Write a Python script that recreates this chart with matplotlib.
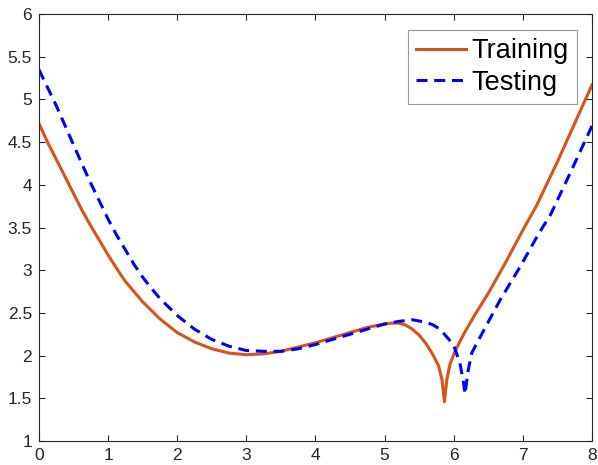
import numpy as np
import matplotlib
matplotlib.use("Agg")
import matplotlib.pyplot as plt

plt.rcParams['font.family'] = ['Liberation Sans', 'DejaVu Sans']

# values
train_x = [0.0, 0.125, 0.25, 0.375, 0.5, 0.625, 0.75, 0.875, 1.0, 1.125, 1.25,
           1.375, 1.5, 1.625, 1.75, 1.875, 2.0, 2.25, 2.5, 2.75,
           3.0, 3.25, 3.5, 3.75, 4.0, 4.25, 4.5, 4.75, 5.0, 5.1, 5.2, 5.3,
           5.4, 5.5, 5.6, 5.7, 5.78, 5.83, 5.865, 5.9, 5.95, 6.03, 6.15, 6.3,
           6.5, 6.75, 7.0, 7.2, 7.5, 7.75, 8.0]
train_y = [4.72, 4.50, 4.30, 4.10, 3.90, 3.70, 3.52, 3.35, 3.18, 3.02, 2.87,
           2.75, 2.63, 2.53, 2.43, 2.35, 2.27, 2.16, 2.08, 2.03,
           2.01, 2.02, 2.05, 2.10, 2.15, 2.21, 2.27, 2.33, 2.37, 2.38, 2.38, 2.36,
           2.31, 2.24, 2.14, 2.01, 1.88, 1.72, 1.46, 1.72, 1.91, 2.07, 2.26, 2.47,
           2.73, 3.09, 3.47, 3.76, 4.27, 4.72, 5.17]

test_x = [0.0, 0.125, 0.25, 0.375, 0.5, 0.625, 0.75, 0.875, 1.0, 1.125, 1.25,
          1.375, 1.5, 1.625, 1.75, 1.875, 2.0, 2.25, 2.5, 2.75,
          3.0, 3.25, 3.5, 3.75, 4.0, 4.25, 4.5, 4.75, 5.0, 5.2, 5.4, 5.6,
          5.7, 5.8, 5.92, 6.0, 6.09, 6.14, 6.165, 6.19, 6.21, 6.26, 6.41, 6.67,
          6.96, 7.23, 7.4, 7.68, 8.0]
test_y = [5.35, 5.14, 4.93, 4.70, 4.47, 4.24, 4.02, 3.81, 3.60, 3.41, 3.24,
          3.07, 2.92, 2.79, 2.67, 2.57, 2.47, 2.31, 2.19, 2.11,
          2.06, 2.05, 2.05, 2.08, 2.13, 2.19, 2.25, 2.31, 2.37, 2.40, 2.42, 2.39,
          2.36, 2.31, 2.20, 2.12, 1.91, 1.69, 1.55, 1.72, 1.83, 2.03, 2.26, 2.65,
          3.04, 3.43, 3.65, 4.13, 4.69]

xticks = np.arange(0, 9, 1)
yticks = [1, 1.5, 2, 2.5, 3, 3.5, 4, 4.5, 5, 5.5, 6]
ytick_labels = ['1', '1.5', '2', '2.5', '3', '3.5', '4', '4.5', '5', '5.5', '6']

fig = plt.figure(figsize=(5.98, 4.65), dpi=100)
ax = fig.add_axes([0.065, 0.0516, 0.925, 0.9183])

ax.plot(train_x, train_y, color='#D95319', lw=2.2, label='Training')
ax.plot(test_x, test_y, color='#0000FF', lw=2.2, linestyle=(0, (3.6, 2.2)),
        label='Testing')

ax.set_xlim(0, 8)
ax.set_ylim(1, 6)
ax.set_xticks(xticks)
ax.set_yticks(yticks)
ax.set_yticklabels(ytick_labels)
ax.tick_params(direction='in', length=4, width=0.8, top=True, right=True,
               labelsize=12.5, colors='#262626', pad=5)
for s in ax.spines.values():
    s.set_color('#262626')
    s.set_linewidth(0.8)

leg = ax.legend(loc='upper right', bbox_to_anchor=(0.973, 0.9625),
                borderaxespad=0, fontsize=19.5, fancybox=False,
                handlelength=1.85, handletextpad=0.2, borderpad=0.3,
                labelspacing=0.2)
leg.get_frame().set_edgecolor('#7f7f7f')
leg.get_frame().set_linewidth(0.8)

fig.savefig('out.png', dpi=100)
